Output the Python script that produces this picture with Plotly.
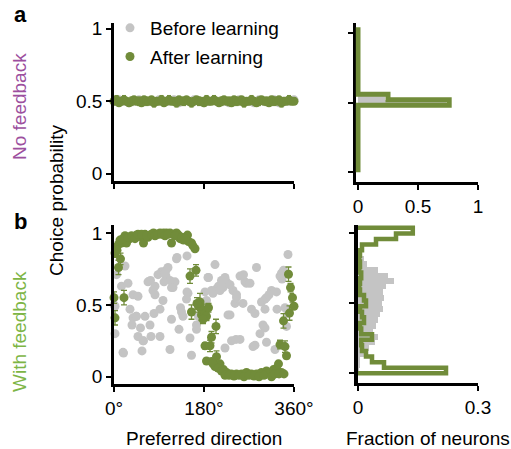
import plotly.graph_objects as go

# ---------------- data ----------------
# Panel a (no feedback): choice probability vs preferred direction
dir_a_before = [0, 10, 20, 30, 40, 50, 60, 70, 80, 90,
                100, 110, 120, 130, 140, 150, 160, 170, 180, 190,
                200, 210, 220, 230, 240, 250, 260, 270, 280, 290,
                300, 310, 320, 330, 340, 350, 360]
cp_a_before = [0.50, 0.51, 0.50, 0.49, 0.50, 0.51, 0.50, 0.50, 0.49, 0.51,
               0.50, 0.50, 0.51, 0.49, 0.50, 0.50, 0.51, 0.50, 0.49, 0.50,
               0.51, 0.50, 0.50, 0.49, 0.50, 0.51, 0.50, 0.50, 0.49, 0.51,
               0.50, 0.50, 0.51, 0.49, 0.50, 0.50, 0.51]

dir_a_after = [0, 5, 10, 15, 20, 25, 30, 35, 40, 45,
               50, 55, 60, 65, 70, 75, 80, 85, 90, 95,
               100, 105, 110, 115, 120, 125, 130, 135, 140, 145,
               150, 155, 160, 165, 170, 175, 180, 185, 190, 195,
               200, 205, 210, 215, 220, 225, 230, 235, 240, 245,
               250, 255, 260, 265, 270, 275, 280, 285, 290, 295,
               300, 305, 310, 315, 320, 325, 330, 335, 340, 345,
               350, 355, 360]
cp_a_after = [0.50, 0.51, 0.49, 0.50, 0.51, 0.50, 0.49, 0.50, 0.51, 0.50,
              0.50, 0.49, 0.51, 0.50, 0.50, 0.51, 0.49, 0.50, 0.50, 0.51,
              0.49, 0.50, 0.51, 0.50, 0.50, 0.49, 0.51, 0.50, 0.50, 0.51,
              0.50, 0.49, 0.50, 0.51, 0.50, 0.50, 0.49, 0.51, 0.50, 0.50,
              0.51, 0.50, 0.49, 0.50, 0.51, 0.50, 0.50, 0.49, 0.51, 0.50,
              0.50, 0.51, 0.49, 0.50, 0.50, 0.51, 0.50, 0.49, 0.50, 0.51,
              0.50, 0.50, 0.49, 0.51, 0.50, 0.50, 0.51, 0.49, 0.50, 0.50,
              0.51, 0.50, 0.50]
err_a_after = [0.02, 0.03, 0.02, 0.02, 0.03, 0.02, 0.02, 0.03, 0.02, 0.02,
               0.03, 0.02, 0.02, 0.03, 0.02, 0.02, 0.03, 0.02, 0.02, 0.03,
               0.02, 0.02, 0.03, 0.02, 0.02, 0.03, 0.02, 0.02, 0.03, 0.02,
               0.02, 0.03, 0.02, 0.02, 0.03, 0.02, 0.02, 0.03, 0.02, 0.02,
               0.03, 0.02, 0.02, 0.03, 0.02, 0.02, 0.03, 0.02, 0.02, 0.03,
               0.02, 0.02, 0.03, 0.02, 0.02, 0.03, 0.02, 0.02, 0.03, 0.02,
               0.02, 0.03, 0.02, 0.02, 0.03, 0.02, 0.02, 0.03, 0.02, 0.02,
               0.03, 0.02, 0.02]

# Panel b (with feedback): before learning
dir_b_before = [2, 2, 5, 22, 15, 28, 32, 18, 38, 48,
                38, 44, 36, 53, 62, 48, 58, 56, 72, 74,
                68, 73, 82, 82, 80, 92, 98, 92, 95, 104,
                104, 112, 118, 122, 115, 112, 126, 130, 133, 135,
                138, 146, 148, 152, 155, 145, 165, 165, 170, 182,
                188, 195, 202, 205, 215, 218, 222, 222, 228, 235,
                238, 242, 245, 252, 252, 258, 262, 265, 275, 278,
                282, 285, 295, 298, 302, 305, 302, 305, 315, 322,
                332, 335, 336, 342, 348, 348, 350, 78, 88, 102,
                108, 100, 45, 59, 125, 146, 169, 185, 189, 209,
                225, 232, 259, 272, 198, 212, 245, 232, 244, 282,
                292, 302, 310, 325, 326, 339, 345, 0, 19, 182,
                115]
cp_b_before = [0.30, 0.49, 0.71, 0.77, 0.63, 0.65, 0.47, 0.17, 0.57, 0.56,
               0.41, 0.42, 0.36, 0.34, 0.42, 0.28, 0.25, 0.18, 0.36, 0.28,
               0.66, 0.67, 0.63, 0.57, 0.44, 0.47, 0.53, 0.28, 0.73, 0.74,
               0.70, 0.67, 0.62, 0.66, 0.40, 0.19, 0.83, 0.33, 0.48, 0.45,
               0.42, 0.84, 0.58, 0.27, 0.15, 0.54, 0.33, 0.36, 0.42, 0.59,
               0.69, 0.60, 0.78, 0.61, 0.67, 0.62, 0.20, 0.69, 0.43, 0.25,
               0.60, 0.51, 0.57, 0.26, 0.70, 0.51, 0.66, 0.65, 0.47, 0.21,
               0.44, 0.76, 0.52, 0.36, 0.34, 0.24, 0.54, 0.55, 0.60, 0.19,
               0.70, 0.72, 0.68, 0.48, 0.85, 0.44, 0.47, 0.60, 0.71, 0.72,
               0.76, 0.66, 0.42, 0.25, 0.82, 0.59, 0.42, 0.53, 0.69, 0.63,
               0.66, 0.64, 0.71, 0.65, 0.58, 0.60, 0.55, 0.43, 0.26, 0.22,
               0.30, 0.47, 0.57, 0.59, 0.47, 0.74, 0.35, 0.50, 0.165, 0.47,
               0.62]

# Panel b: after learning (mean and error)
dir_b_after = [2, 9, 13, 0, 20, 2, 4, 9, 15, 22,
               25, 32, 39, 45, 52, 59, 62, 68, 72, 79,
               85, 92, 99, 105, 112, 115, 119, 125, 129, 132,
               139, 147, 149, 155, 162, 6, 12, 18, 28, 35,
               42, 48, 55, 65, 75, 82, 88, 95, 102, 108,
               122, 136, 142, 158, 152, 164, 155, 172, 169, 175,
               179, 182, 189, 185, 204, 195, 182, 192, 185, 195,
               205, 202, 212, 219, 225, 235, 245, 255, 265, 275,
               285, 295, 305, 312, 319, 325, 329, 335, 198, 208,
               215, 222, 230, 240, 250, 260, 270, 280, 290, 300,
               315, 322, 330, 340, 332, 342, 345, 339, 351, 360,
               357, 353, 349, 166, 178]
cp_b_after = [0.86, 0.76, 0.82, 0.55, 0.55, 0.41, 0.90, 0.92, 0.93, 0.98,
              0.93, 0.96, 0.975, 0.985, 0.975, 0.93, 0.99, 0.97, 0.985, 1.0,
              0.99, 1.0, 1.0, 1.0, 1.0, 0.93, 0.99, 1.0, 0.985, 0.96,
              0.95, 0.985, 0.94, 0.93, 0.89, 0.88, 0.95, 0.96, 0.97, 0.98,
              0.96, 0.99, 0.99, 0.98, 0.99, 0.98, 0.99, 0.99, 0.98, 0.99,
              0.98, 0.97, 0.96, 0.91, 0.70, 0.74, 0.45, 0.52, 0.49, 0.43,
              0.465, 0.44, 0.48, 0.42, 0.35, 0.275, 0.215, 0.215, 0.11, 0.107,
              0.14, 0.072, 0.09, 0.05, 0.03, 0.02, 0.02, 0.02, 0.03, 0.02,
              0.02, 0.03, 0.04, 0.03, 0.05, 0.06, 0.09, 0.03, 0.09, 0.06,
              0.04, 0.01, 0.01, 0.005, 0.01, 0.0, 0.01, 0.005, 0.0, 0.01,
              0.0, 0.02, 0.02, 0.02, 0.224, 0.21, 0.146, 0.389, 0.443, 0.49,
              0.55, 0.62, 0.713, 0.51, 0.40]
err_b_after = [0.03, 0.05, 0.04, 0.04, 0.05, 0.05, 0.01, 0.01, 0.01, 0.01,
               0.01, 0.01, 0.01, 0.01, 0.01, 0.01, 0.01, 0.01, 0.01, 0.01,
               0.01, 0.01, 0.01, 0.01, 0.01, 0.01, 0.01, 0.01, 0.01, 0.01,
               0.01, 0.01, 0.01, 0.01, 0.01, 0.01, 0.01, 0.01, 0.01, 0.01,
               0.01, 0.01, 0.01, 0.01, 0.01, 0.01, 0.01, 0.01, 0.01, 0.01,
               0.01, 0.01, 0.01, 0.01, 0.05, 0.04, 0.05, 0.06, 0.04, 0.04,
               0.04, 0.03, 0.03, 0.03, 0.05, 0.04, 0.02, 0.04, 0.01, 0.01,
               0.04, 0.01, 0.01, 0.01, 0.01, 0.01, 0.01, 0.01, 0.01, 0.01,
               0.01, 0.01, 0.01, 0.01, 0.01, 0.01, 0.01, 0.01, 0.01, 0.01,
               0.01, 0.01, 0.01, 0.01, 0.01, 0.01, 0.01, 0.01, 0.01, 0.01,
               0.01, 0.01, 0.01, 0.01, 0.03, 0.04, 0.02, 0.05, 0.05, 0.02,
               0.03, 0.03, 0.05, 0.04, 0.03]

# Histograms of choice probability (bin centres, width 0.04)
bin_centers = [0.02, 0.06, 0.10, 0.14, 0.18, 0.22, 0.26, 0.30, 0.34, 0.38,
               0.42, 0.46, 0.50, 0.54, 0.58, 0.62, 0.66, 0.70, 0.74, 0.78,
               0.82, 0.86, 0.90, 0.94, 0.98, 1.02]
bin_width = 0.04
hist_a_before = [0, 0, 0, 0, 0, 0, 0, 0, 0, 0,
                 0, 0, 0.73, 0.22, 0, 0, 0, 0, 0, 0,
                 0, 0, 0, 0, 0, 0]
hist_a_after = [0, 0, 0, 0, 0, 0, 0, 0, 0, 0,
                0, 0, 0.76, 0.25, 0, 0, 0, 0, 0, 0,
                0, 0, 0, 0, 0, 0]
hist_b_before = [0.002, 0.004, 0.006, 0.015, 0.028, 0.042, 0.05, 0.038, 0.045, 0.05,
                 0.056, 0.062, 0.06, 0.064, 0.062, 0.07, 0.09, 0.075, 0.05, 0.022,
                 0.015, 0.005, 0, 0, 0, 0]
hist_b_after = [0.22, 0.065, 0.035, 0.02, 0.01, 0.008, 0.035, 0.008, 0.005, 0.015,
                0.01, 0.005, 0.02, 0.015, 0.005, 0.003, 0.005, 0.008, 0.003, 0.005,
                0.003, 0.005, 0.01, 0.045, 0.095, 0.137]

# ---------------- style ----------------
W, H = 511, 449
GRAY = "#c4c4c4"
GREEN = "#718c3a"
FONT = "Liberation Sans, Arial, Helvetica, sans-serif"
FS = 19


def fx(p):
    return p / W


def fy(p):
    return 1 - p / H


def step_path(centers, fracs, w):
    xs, ys = [0], [centers[0] - w / 2]
    for c, f in zip(centers, fracs):
        xs += [f, f]
        ys += [c - w / 2, c + w / 2]
    xs.append(0)
    ys.append(centers[-1] + w / 2)
    return xs, ys


fig = go.Figure()

# panel a scatter
fig.add_trace(go.Scatter(x=dir_a_before, y=cp_a_before, mode="markers",
                         marker=dict(color=GRAY, size=9), name="Before learning",
                         legendgroup="g1", cliponaxis=False, xaxis="x", yaxis="y"))
fig.add_trace(go.Scatter(x=dir_a_after, y=cp_a_after, mode="markers",
                         marker=dict(color=GREEN, size=9), name="After learning",
                         error_y=dict(type="data", array=err_a_after, color=GREEN,
                                      thickness=1, width=2),
                         legendgroup="g2", cliponaxis=False, xaxis="x", yaxis="y"))
# panel b scatter
fig.add_trace(go.Scatter(x=dir_b_before, y=cp_b_before, mode="markers",
                         marker=dict(color=GRAY, size=9), showlegend=False,
                         cliponaxis=False, xaxis="x2", yaxis="y2"))
fig.add_trace(go.Scatter(x=dir_b_after, y=cp_b_after, mode="markers",
                         marker=dict(color=GREEN, size=9), showlegend=False,
                         error_y=dict(type="data", array=err_b_after, color=GREEN,
                                      thickness=1.3, width=3),
                         cliponaxis=False, xaxis="x2", yaxis="y2"))

# histograms
for xa, ya, hb, ha, lw in (("x3", "y3", hist_a_before, hist_a_after, 5),
                           ("x4", "y4", hist_b_before, hist_b_after, 4.5)):
    fig.add_trace(go.Bar(y=bin_centers, x=hb, orientation="h", width=bin_width,
                         marker=dict(color=GRAY, line=dict(width=0)),
                         showlegend=False, xaxis=xa, yaxis=ya))
    sx, sy = step_path(bin_centers, ha, bin_width)
    fig.add_trace(go.Scatter(x=sx, y=sy, mode="lines",
                             line=dict(color=GREEN, width=lw),
                             showlegend=False, cliponaxis=False, xaxis=xa, yaxis=ya))

axis_common = dict(showline=True, linecolor="black", linewidth=2.5, ticks="outside",
                   ticklen=5, tickwidth=2, tickcolor="black", showgrid=False,
                   zeroline=False, automargin=False,
                   tickfont=dict(family=FONT, size=FS, color="black"),
                   fixedrange=True)

xl = [fx(114), fx(294)]
ya_top = [fy(181), fy(23)]
ya_bot = [fy(384), fy(225)]
yr_top = [fy(182), fy(23)]
yr_bot = [fy(383), fy(225)]
# top-right axis starts a little left of 0 so the outline at 0 is not clipped
xr_top = [fx(355.6), fx(478)]
xr_bot = [fx(358), fx(478)]

fig.update_layout(
    template="none",
    width=W, height=H, autosize=False,
    margin=dict(l=0, r=0, t=0, b=0, pad=0, autoexpand=False),
    paper_bgcolor="white", plot_bgcolor="white",
    bargap=0,
    font=dict(family=FONT, size=FS, color="black"),
    showlegend=True,
    legend=dict(x=fx(110), y=fy(9), xanchor="left", yanchor="top",
                font=dict(family=FONT, size=FS, color="black"),
                bgcolor="rgba(0,0,0,0)", borderwidth=0,
                traceorder="grouped", tracegroupgap=1, itemwidth=30),
    xaxis=dict(axis_common, domain=xl, range=[0, 360], tickvals=[0, 180, 360],
               showticklabels=False, anchor="y"),
    yaxis=dict(axis_common, domain=ya_top, range=[-0.05, 1.04], tickvals=[0, 0.5, 1],
               ticktext=["0", "0.5", "1"], anchor="x"),
    xaxis2=dict(axis_common, domain=xl, range=[0, 360], tickvals=[0, 180, 360],
                ticktext=["0°", "180°", "360°"], anchor="y2"),
    yaxis2=dict(axis_common, domain=ya_bot, range=[-0.05, 1.055], tickvals=[0, 0.5, 1],
                ticktext=["0", "0.5", "1"], anchor="x2"),
    xaxis3=dict(axis_common, domain=xr_top, range=[-0.02, 1], tickvals=[0, 0.5, 1],
                ticktext=["0", "0.5", "1"], anchor="y3"),
    yaxis3=dict(axis_common, domain=yr_top, range=[-0.07, 1.07], tickvals=[0, 0.5, 1],
                showticklabels=False, anchor="x3", layer="below traces"),
    xaxis4=dict(axis_common, domain=xr_bot, range=[0, 0.3], tickvals=[0, 0.3],
                ticktext=["0", "0.3"], anchor="y4"),
    yaxis4=dict(axis_common, domain=yr_bot, range=[-0.069, 1.06], tickvals=[0, 0.5, 1],
                showticklabels=False, anchor="x4", linewidth=4),
)

ann = [
    dict(text="<b>a</b>", x=fx(20), y=fy(15), font=dict(size=22)),
    dict(text="<b>b</b>", x=fx(20), y=fy(221), font=dict(size=22)),
    dict(text="No feedback", x=fx(19), y=fy(107), textangle=-90,
         font=dict(color="#9c4f9e")),
    dict(text="With feedback", x=fx(19), y=fy(332), textangle=-90,
         font=dict(color="#7db545")),
    dict(text="Choice probability", x=fx(56), y=fy(200), textangle=-90),
    dict(text="Preferred direction", x=fx(204), y=fy(438)),
    dict(text="Fraction of neurons", x=fx(428), y=fy(438)),
]
for a in ann:
    f = dict(family=FONT, size=FS, color="black")
    f.update(a.pop("font", {}))
    fig.add_annotation(xref="paper", yref="paper", showarrow=False,
                       xanchor="center", yanchor="middle", font=f, **a)

post = (
    "document.documentElement.style.overflow='hidden';"
    "document.body.style.overflow='hidden';"
    "document.body.style.margin='0';"
    "document.body.style.padding='0';"
)
fig.write_html("out.html", config={"displayModeBar": False, "responsive": False},
               post_script=post)
